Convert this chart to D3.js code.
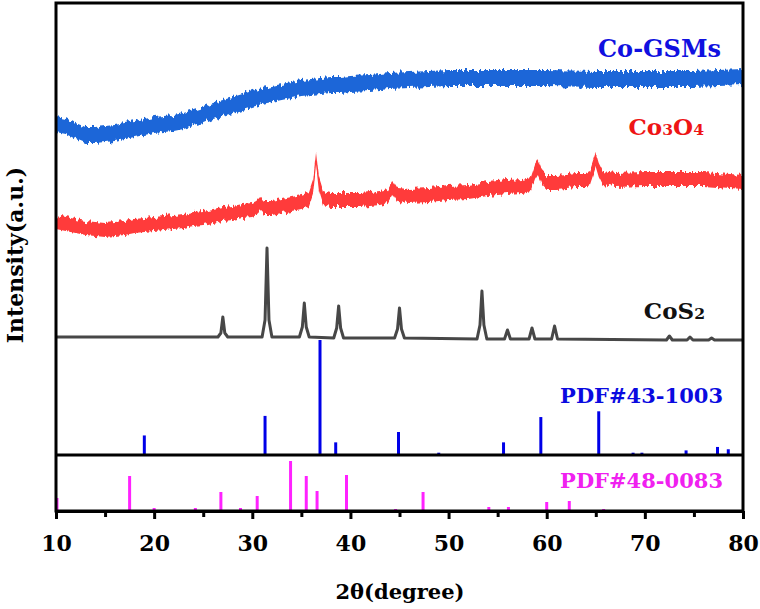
<!DOCTYPE html>
<html>
<head>
<meta charset="utf-8">
<script src="https://cdn.jsdelivr.net/npm/d3@7"></script>
<style>
  body { margin: 0; background: #fff; }
</style>
</head>
<body>
<div id="chart"></div>
<script>
// valores (intensidade em u.a.)
const blueX = [10, 11, 12, 13, 14, 15, 16, 17, 18, 19, 20, 21, 22, 23, 24, 25, 26, 27, 28, 29, 30, 31, 32, 33, 34, 35, 36, 37, 38, 39, 40, 42, 44, 46, 48, 50, 55, 60, 65, 70, 75, 80];
const blueY = [331, 329, 324, 320, 320, 321, 322, 324, 326, 328, 330, 331, 332, 334, 337, 340, 344, 347, 350, 353, 356, 359, 361, 363, 365, 367, 368, 369, 370, 370, 371, 372, 374, 375, 376, 377, 377, 377, 376, 376, 376, 378];

const redX = [10, 11, 12, 13, 14, 15, 16, 17, 18, 19, 20, 21, 22, 23, 24, 25, 26, 27, 28, 29, 30, 30.4, 30.8, 31.2, 32, 33, 34, 35, 35.8, 36.2, 36.5, 36.8, 37.2, 38, 39, 40, 41, 42, 43, 43.8, 44.3, 44.8, 46, 48, 50, 52, 54, 56, 57.5, 58.4, 58.8, 59.1, 59.5, 60, 61, 62, 63, 64, 64.4, 64.8, 65.0, 65.3, 65.7, 67, 70, 73, 76, 80];
const redY = [233, 231, 229, 227, 226, 225, 226, 227, 229, 230, 231, 232, 233, 234, 236, 237, 239, 241, 242, 244, 245, 247, 251, 247, 247, 249, 251, 253, 256, 268, 297, 270, 257, 255, 255, 255, 255, 256, 257, 259, 268, 260, 259, 260, 262, 263, 266, 268, 269, 271, 283, 288, 278, 273, 273, 274, 275, 275, 277, 289, 295, 285, 277, 275, 276, 276, 276, 273];

const cosX = [10, 20, 26.5, 26.8, 27.0, 27.2, 27.5, 31.0, 31.3, 31.5, 31.7, 32.0, 34.8, 35.1, 35.3, 35.5, 35.8, 38.3, 38.6, 38.8, 39.0, 39.3, 44.5, 44.8, 45.0, 45.2, 45.5, 52.9, 53.2, 53.4, 53.6, 53.9, 55.7, 56.0, 56.3, 58.2, 58.5, 58.8, 60.5, 60.8, 61.1, 72.2, 72.5, 72.8, 74.3, 74.6, 74.9, 76.5, 76.8, 77.1, 80];
const cosY = [118, 118, 118, 122, 138, 122, 118, 118, 135, 207, 135, 118, 118, 128, 152, 128, 118, 117, 127, 149, 127, 117, 117, 126, 147, 126, 117, 116, 130, 164, 130, 116, 116, 125, 116, 116, 127, 116, 116, 129, 116, 115, 119, 115, 115, 118, 115, 115, 117, 115, 115];

// PDF#43-1003 (CoS2)
const pdf1Pos = [19.0, 31.3, 36.9, 38.5, 44.9, 49.0, 55.6, 59.4, 65.3, 68.8, 69.7, 74.2, 77.4, 78.5];
const pdf1Int = [17, 34, 100, 11, 20, 2, 11, 33, 38, 2, 2, 4, 7, 5];

// PDF#48-0083
const pdf2Pos = [10.1, 17.5, 20.0, 24.2, 26.8, 28.8, 30.5, 33.9, 35.5, 36.6, 39.6, 44.6, 47.4, 54.1, 56.1, 60.0, 62.3, 65.8];
const pdf2Int = [26, 70, 6, 6, 38, 6, 30, 100, 70, 40, 72, 4, 38, 8, 8, 18, 20, 4];

const xTicks = [10, 20, 30, 40, 50, 60, 70, 80];
const xMinor = [15, 25, 35, 45, 55, 65, 75];

const W = 760, H = 609;
const L = 56, R = 743, T = 3, MID = 455, B = 511;
const FONT = "'DejaVu Serif', serif";

const svg = d3.select("#chart").append("svg")
  .attr("width", W)
  .attr("height", H);

const x = d3.scaleLinear().domain([10, 80]).range([L, R]);
const y = d3.scaleLinear().domain([0, 452]).range([MID, T]);
const yPdf1 = d3.scaleLinear().domain([0, 100]).range([MID, 340]);
const yPdf2 = d3.scaleLinear().domain([0, 100]).range([B, 461]);

const defs = svg.append("defs");
defs.append("clipPath").attr("id", "clip")
  .append("rect").attr("x", L).attr("y", T).attr("width", R - L).attr("height", MID - T);

// textura de ruido so na vertical (efeito visual, nao altera os dados)
const rough = defs.append("filter").attr("id", "rough")
  .attr("x", "-2%").attr("y", "-40%").attr("width", "104%").attr("height", "180%");
rough.append("feTurbulence")
  .attr("type", "fractalNoise")
  .attr("baseFrequency", "0.4 0.03")
  .attr("numOctaves", 2)
  .attr("seed", 3)
  .attr("result", "noise");
rough.append("feColorMatrix")
  .attr("in", "noise")
  .attr("type", "matrix")
  .attr("values", "0 0 0 0 0.5  0 1 0 0 0  0 0 0 0 0  0 0 0 0 1")
  .attr("result", "disp");
rough.append("feDisplacementMap")
  .attr("in", "SourceGraphic")
  .attr("in2", "disp")
  .attr("scale", 9)
  .attr("xChannelSelector", "R")
  .attr("yChannelSelector", "G");

// faixa ruidosa desenhada como area com espessura vertical fixa
function band(xs, ys, thick) {
  return d3.area()
    .x((d, i) => x(xs[i]))
    .y0((d, i) => y(ys[i]) + thick / 2)
    .y1((d, i) => y(ys[i]) - thick / 2)(ys);
}

const curves = svg.append("g").attr("clip-path", "url(#clip)");

curves.append("path")
  .attr("d", band(blueX, blueY, 16))
  .attr("fill", "#1a66d8")
  .attr("filter", "url(#rough)");

curves.append("path")
  .attr("d", band(redX, redY, 14))
  .attr("fill", "#ff3a3a")
  .attr("filter", "url(#rough)");

curves.append("path")
  .attr("d", d3.line().x((d, i) => x(cosX[i])).y((d, i) => y(cosY[i]))(cosY))
  .attr("fill", "none")
  .attr("stroke", "#474747")
  .attr("stroke-width", 3)
  .attr("stroke-linejoin", "round");

// linhas de referencia
svg.append("g")
  .selectAll("line")
  .data(pdf1Pos)
  .enter()
  .append("line")
  .attr("x1", d => x(d))
  .attr("x2", d => x(d))
  .attr("y1", MID)
  .attr("y2", (d, i) => yPdf1(pdf1Int[i]))
  .attr("stroke", "#0000e8")
  .attr("stroke-width", 3);

svg.append("g")
  .selectAll("line")
  .data(pdf2Pos)
  .enter()
  .append("line")
  .attr("x1", d => x(d))
  .attr("x2", d => x(d))
  .attr("y1", B)
  .attr("y2", (d, i) => yPdf2(pdf2Int[i]))
  .attr("stroke", "#ff22ff")
  .attr("stroke-width", 3);

// moldura
svg.append("rect")
  .attr("x", L).attr("y", T)
  .attr("width", R - L).attr("height", B - T)
  .attr("fill", "none")
  .attr("stroke", "#000")
  .attr("stroke-width", 3);

svg.append("line")
  .attr("x1", L).attr("x2", R)
  .attr("y1", MID).attr("y2", MID)
  .attr("stroke", "#000")
  .attr("stroke-width", 3);

// eixo x
const axis = svg.append("g")
  .attr("transform", `translate(0,${B})`)
  .call(d3.axisBottom(x).tickValues(xTicks).tickSize(8).tickSizeOuter(0).tickPadding(16));

axis.select(".domain").attr("stroke-width", 3);
axis.selectAll(".tick line").attr("stroke-width", 3);
axis.selectAll(".tick text")
  .style("font-family", FONT)
  .style("font-weight", "bold")
  .style("font-size", "22px")
  .attr("fill", "#000");

svg.append("g")
  .attr("transform", `translate(0,${B})`)
  .call(d3.axisBottom(x).tickValues(xMinor).tickSize(6).tickSizeOuter(0).tickFormat(""))
  .call(g => g.select(".domain").remove())
  .selectAll(".tick line").attr("stroke-width", 3);

svg.append("text")
  .attr("x", 400)
  .attr("y", 599)
  .attr("text-anchor", "middle")
  .style("font-family", FONT)
  .style("font-weight", "bold")
  .style("font-size", "21px")
  .text("2θ(degree)");

svg.append("text")
  .attr("transform", "translate(23,255) rotate(-90)")
  .attr("text-anchor", "middle")
  .style("font-family", FONT)
  .style("font-weight", "bold")
  .style("font-size", "22px")
  .text("Intensity(a.u.)");

// rotulos das curvas
function label(tx, ty, parts, color, size) {
  const t = svg.append("text")
    .attr("x", tx).attr("y", ty)
    .attr("text-anchor", "end")
    .style("font-family", FONT)
    .style("font-weight", "bold")
    .style("font-size", size + "px")
    .attr("fill", color);
  parts.forEach(p => {
    const s = t.append("tspan").text(p[0]);
    if (p[1]) s.style("font-size", (size * 0.68) + "px");
  });
}

label(721, 57, [["Co-GSMs"]], "#1010e0", 24);
label(704, 135, [["Co"], ["3", true], ["O"], ["4", true]], "#ee1515", 23);
label(705, 319, [["CoS"], ["2", true]], "#111", 23);
label(723, 403, [["PDF#43-1003"]], "#0a0ae0", 21);
label(723, 488, [["PDF#48-0083"]], "#f020f0", 21);
</script>
</body>
</html>
